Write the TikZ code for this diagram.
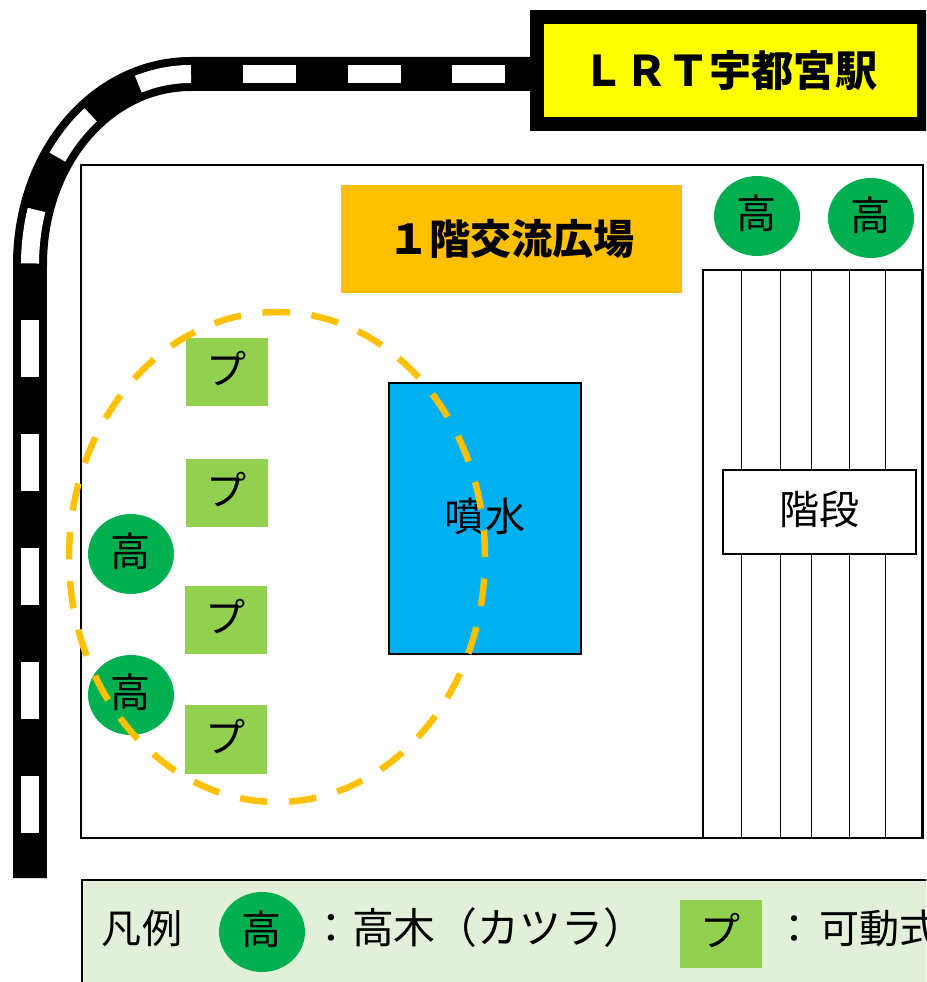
\documentclass[tikz,border=0pt]{standalone}
\usepackage{fontspec}
\setmainfont{Noto Sans CJK JP}
\usepackage{tikz}
\usetikzlibrary{shapes,shapes.geometric}
\definecolor{stationy}{HTML}{FFFF00}
\definecolor{signorange}{HTML}{FFC000}
\definecolor{treegreen}{HTML}{00B050}
\definecolor{planterg}{HTML}{92D050}
\definecolor{fountainb}{HTML}{00B0F0}
\definecolor{legendg}{HTML}{E2F0D9}
\tikzset{
    jptext/.style={font=\fontsize{22.8}{24}\selectfont, text height=0.6cm, text depth=0.1cm},
    tree/.style={ellipse, fill=treegreen, inner sep=0pt, minimum width=1.72cm, minimum height=1.6cm, jptext},
    planter/.style={fill=planterg, inner sep=0pt, minimum width=1.64cm, minimum height=1.37cm, jptext},
    rail/.style={line width=0.68cm, black},
    sleeper/.style={line width=0.36cm, white}
}

\begin{document}
\begin{tikzpicture}[x=0.02cm,y=-0.02cm]
\useasboundingbox (0,0) rectangle (926,982);
\clip (0,0) rectangle (926,982);

% track
\coordinate (t1) at (530,74);
\coordinate (t2) at (505,74);
\coordinate (t3) at (191,74);
\coordinate (t4) at (30,265);
\coordinate (t5) at (30,320);
\coordinate (t6) at (30,833);
\coordinate (t7) at (30,878);
\draw [rail] (t1) -- (t3) .. controls (102,74) and (30,157) .. (t4) -- (t7);
\draw [sleeper, dash pattern=on 1.06cm off 1.03cm] (t2) -- (240,74);
\draw [sleeper, dash pattern=on 1.08cm off 1.14cm] (t3) .. controls (102,74) and (30,157) .. (t4);
\draw [sleeper, dash pattern=on 1.15cm off 1.13cm] (t5) -- (t6);

\node [draw=black, line width=0.28cm, fill=stationy, inner sep=0pt, minimum width=7.74cm, minimum height=2.14cm,
       font=\fontsize{24}{24}\bfseries\selectfont] (station) at (730.5,70.5) {ＬＲＴ宇都宮駅};

% plaza
\draw [line width=0.04cm] (81,165) rectangle (923,838);
\node [fill=signorange, inner sep=0pt, minimum width=6.82cm, minimum height=2.16cm,
       font=\fontsize{23.4}{24}\bfseries\selectfont] (sign) at (511.5,239) {１階交流広場};
\node [tree] (tree1) at (757,216) {高};
\node [tree] (tree2) at (871,218) {高};
\node [tree] (tree3) at (131,554) {高};
\node [tree] (tree4) at (131,695) {高};

% stairs
\draw [line width=0.03cm] (703,270) rectangle (922,838);
\foreach \x in {741,780,811,849,885}
    \draw [line width=0.02cm] (\x,270) -- (\x,838);
\node [draw, line width=0.04cm, fill=white, inner sep=0pt, minimum width=3.86cm, minimum height=1.68cm, jptext] (stairs) at (819.5,512) {階段};

\node [draw, line width=0.04cm, fill=fountainb, inner sep=0pt, minimum width=3.84cm, minimum height=5.42cm, jptext] (fountain) at (485,518.5) {噴水};

\node [planter] (pl1) at (227,372) {プ};
\node [planter] (pl2) at (227,493) {プ};
\node [planter] (pl3) at (226,620) {プ};
\node [planter] (pl4) at (226,739.5) {プ};

\draw [signorange, line width=0.13cm, dash pattern=on 0.55cm off 0.434cm, dash phase=0.55cm] (277,557) ellipse [x radius=208, y radius=245];

% legend
\draw [fill=legendg, line width=0.04cm] (82,880) rectangle (960,1010);
\node [jptext] (lg0) at (142,931) {凡例};
\node [tree] (lg1) at (262,932) {高};
\node [jptext, font=\fontsize{23.8}{24}\selectfont, anchor=west, inner sep=0pt] (lg2) at (310,931) {：高木（カツラ）};
\node [planter] (lg3) at (720.5,934) {プ};
\node [jptext, anchor=west, inner sep=0pt] (lg4) at (774,931) {：\kern 2.8pt 可動式};
\end{tikzpicture}
\end{document}
